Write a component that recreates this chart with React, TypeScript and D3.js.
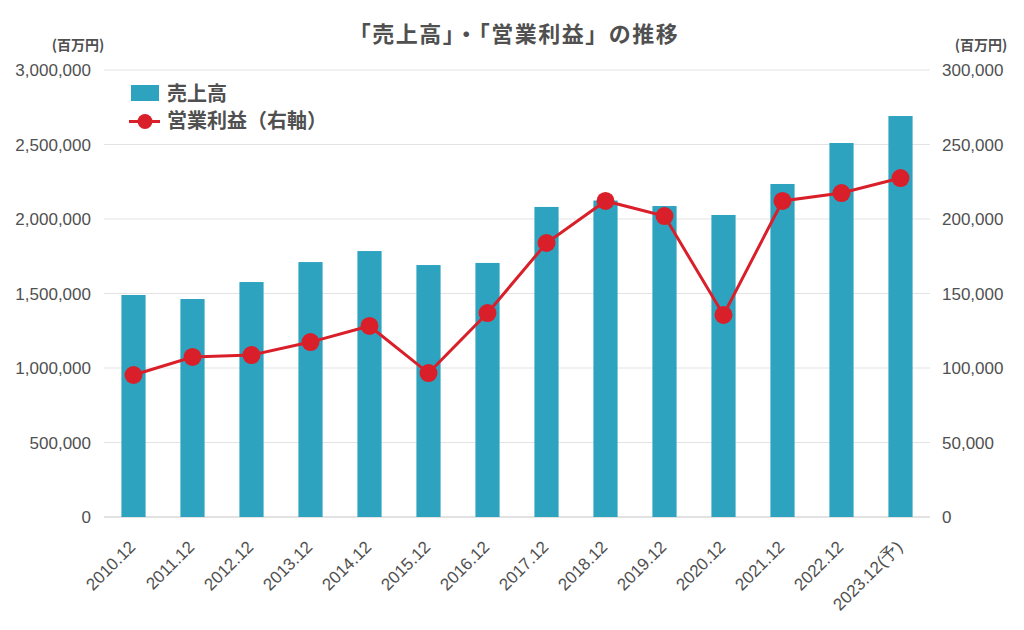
import React from "react";
import * as d3 from "d3";

const categories = ["2010.12","2011.12","2012.12","2013.12","2014.12","2015.12","2016.12","2017.12","2018.12","2019.12","2020.12","2021.12","2022.12","2023.12(予)"];
const sales = [1490000,1463000,1577000,1711000,1785000,1691000,1705000,2081000,2124000,2087000,2027000,2235000,2510000,2691000];
const profit = [95300,107400,108700,117400,128200,96600,136900,183900,212100,202000,135600,212100,217400,227500];
const leftTicks = [0,500000,1000000,1500000,2000000,2500000,3000000];
const rightTicks = [0,50000,100000,150000,200000,250000,300000];

const W = 1024, H = 630;
const L = 104, R = 930, T = 70, B = 517;
const FONT = "'Noto Sans CJK JP', 'Noto Sans', sans-serif";
const NUM = "'Liberation Sans', Arial, sans-serif";
const TXT = "#505050";

export default function App() {
  const x = d3.scaleBand<string>().domain(categories).range([L, R]).paddingInner(0.59).paddingOuter(0.295);
  const yL = d3.scaleLinear().domain([0, 3000000]).range([B, T]);
  const yR = d3.scaleLinear().domain([0, 300000]).range([B, T]);
  const fmt = d3.format(",");
  const cx = (c: string) => (x(c) as number) + x.bandwidth() / 2;
  const line = d3.line<number>().x((_, i) => cx(categories[i])).y((d) => yR(d));
  return (
    <svg width={W} height={H} style={{ position: "absolute", left: 0, top: 0, background: "#fff" }} fontFamily={FONT}>
      <text x={514} y={42} textAnchor="middle" fontSize={22} fontWeight="bold" fill={TXT} letterSpacing={1.5}>「売上高」・「営業利益」の推移</text>
      <text x={78} y={50} textAnchor="middle" fontSize={14} fontWeight="bold" fill={TXT}>(百万円)</text>
      <text x={981} y={50} textAnchor="middle" fontSize={14} fontWeight="bold" fill={TXT}>(百万円)</text>
      {leftTicks.map((t) => (
        <g key={"g" + t}>
          <line x1={L} x2={R} y1={yL(t)} y2={yL(t)} stroke={t === 0 ? "#d9d9d9" : "#e3e3e3"} strokeWidth={t === 0 ? 1.5 : 1} />
          <text x={91} y={yL(t)} dy="0.36em" textAnchor="end" fontSize={17} fontFamily={NUM} fill={TXT}>{fmt(t)}</text>
        </g>
      ))}
      {rightTicks.map((t) => (
        <text key={"r" + t} x={942} y={yR(t)} dy="0.36em" textAnchor="start" fontSize={17} fontFamily={NUM} fill={TXT}>{fmt(t)}</text>
      ))}
      {categories.map((c, i) => (
        <rect key={c} x={x(c)} y={yL(sales[i])} width={x.bandwidth()} height={B - yL(sales[i])} fill="#2ea3c0" />
      ))}
      <path d={line(profit) || ""} fill="none" stroke="#d9202a" strokeWidth={3} />
      {profit.map((p, i) => (
        <circle key={"c" + i} cx={cx(categories[i])} cy={yR(p)} r={9} fill="#d9202a" />
      ))}
      {categories.map((c) => (
        <text key={"x" + c} transform={`translate(${cx(c) + 3},${B + 31}) rotate(-45)`} textAnchor="end" fontSize={17} fontFamily={NUM} fill={TXT}>{c}</text>
      ))}
      <rect x={131} y={85} width={28} height={16} fill="#2ea3c0" />
      <text x={167} y={93.5} dy="0.36em" fontSize={20} fontWeight="bold" fill={TXT}>売上高</text>
      <line x1={129} x2={160} y1={121.5} y2={121.5} stroke="#d9202a" strokeWidth={3} />
      <circle cx={145} cy={121.5} r={7.5} fill="#d9202a" />
      <text x={167} y={121} dy="0.36em" fontSize={20} fontWeight="bold" fill={TXT}>営業利益（右軸）</text>
    </svg>
  );
}
